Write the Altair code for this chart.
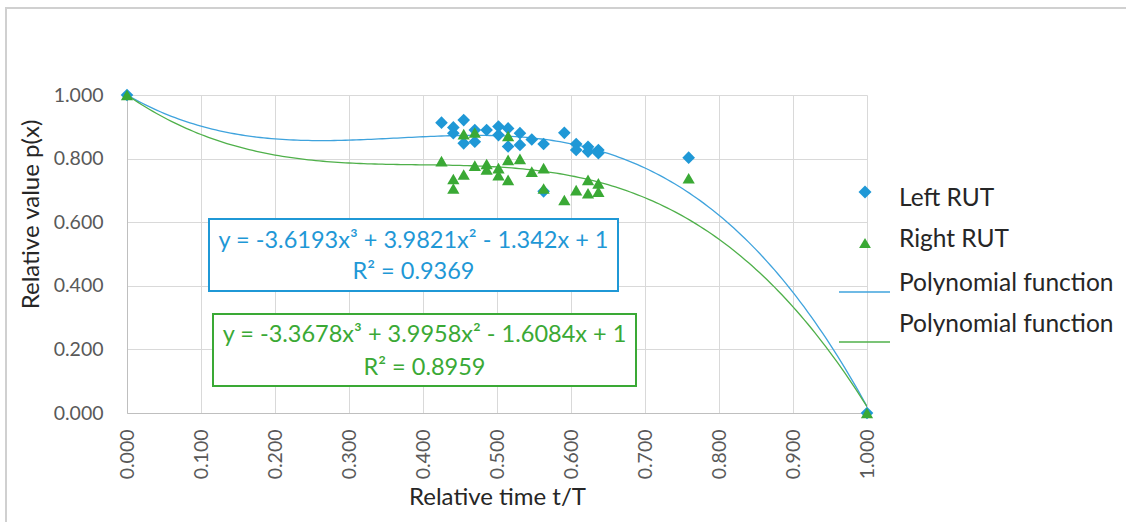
import altair as alt
import pandas as pd

# Relative time (t/T) and relative value p(x) for each tyre
left_t = [0.000, 0.425, 0.441, 0.441, 0.455, 0.455, 0.470, 0.470, 0.486, 0.502,
          0.502, 0.515, 0.515, 0.531, 0.531, 0.547, 0.563, 0.563, 0.591, 0.607,
          0.607, 0.623, 0.623, 0.637, 0.637, 0.759, 1.000]
left_p = [1.000, 0.913, 0.898, 0.880, 0.921, 0.848, 0.890, 0.853, 0.890, 0.901,
          0.874, 0.895, 0.838, 0.880, 0.843, 0.860, 0.846, 0.697, 0.881, 0.846,
          0.827, 0.837, 0.822, 0.827, 0.817, 0.803, 0.000]

right_t = [0.000, 0.425, 0.441, 0.441, 0.455, 0.455, 0.470, 0.470, 0.486, 0.486,
           0.502, 0.502, 0.515, 0.515, 0.515, 0.531, 0.547, 0.563, 0.563, 0.591,
           0.607, 0.623, 0.623, 0.637, 0.637, 0.759, 1.000]
right_p = [1.000, 0.792, 0.736, 0.706, 0.750, 0.877, 0.882, 0.778, 0.783, 0.766,
           0.770, 0.748, 0.871, 0.796, 0.733, 0.799, 0.759, 0.770, 0.706, 0.670,
           0.701, 0.733, 0.691, 0.722, 0.696, 0.738, 0.000]

# Cubic trend-line coefficients (x^3, x^2, x, 1)
left_coef = [-3.6193, 3.9821, -1.342, 1]
right_coef = [-3.3678, 3.9958, -1.6084, 1]
left_eq = ["y = -3.6193x³ + 3.9821x² - 1.342x + 1", "R² = 0.9369"]
right_eq = ["y = -3.3678x³ + 3.9958x² - 1.6084x + 1", "R² = 0.8959"]

x_ticks = [0.0, 0.1, 0.2, 0.3, 0.4, 0.5, 0.6, 0.7, 0.8, 0.9, 1.0]
y_ticks = [0.0, 0.2, 0.4, 0.6, 0.8, 1.0]
legend_labels = ["Left RUT", "Right RUT", "Polynomial function", "Polynomial function"]

BLUE = "#1f98d6"
GREEN = "#3aa935"
BLUE_LINE = "#3fa3dd"
GREEN_LINE = "#4fb04a"
FONT = "Lato"
TEXT = "#262626"

W, H = 740, 318

xs = alt.Scale(domain=[0, 1], nice=False)
ys = alt.Scale(domain=[0, 1], nice=False)

x_axis = alt.Axis(values=x_ticks, format=".3f", labelAngle=270, labelAlign="right",
                  labelBaseline="middle", labelPadding=16, ticks=False,
                  domainColor="#bfbfbf", gridColor="#d9d9d9",
                  labelFont=FONT, labelFontSize=19.5, labelColor="#595959",
                  title="Relative time t/T", titleFont=FONT, titleFontSize=24,
                  titleFontWeight="normal", titleColor=TEXT, titleY=84,
                  titleBaseline="middle")
y_axis = alt.Axis(values=y_ticks, format=".3f", labelPadding=24, ticks=False,
                  domainColor="#bfbfbf", gridColor="#d9d9d9",
                  labelFont=FONT, labelFontSize=19.5, labelColor="#595959",
                  title="Relative value p(x)", titleFont=FONT, titleFontSize=24,
                  titleFontWeight="normal", titleColor=TEXT, titleAngle=270,
                  titleX=-96, titleY=119, titleAlign="center", titleBaseline="middle")

one = pd.DataFrame({"k": [0]})

# Outer frame of the chart area
frame = alt.Chart(one).mark_rect(fillOpacity=0, stroke="#d0d0d0", strokeWidth=2).encode(
    x=alt.value(-121), x2=alt.value(1010), y=alt.value(-87), y2=alt.value(440))


def trend(coef, color):
    a, b, c, d = coef
    expr = f"({a})*pow(datum.t,3) + ({b})*pow(datum.t,2) + ({c})*datum.t + ({d})"
    return alt.Chart(alt.sequence(0, 1.0001, 0.005, as_="t")).transform_calculate(
        p=expr
    ).mark_line(color=color, strokeWidth=1.3, clip=True).encode(
        x=alt.X("t:Q", scale=xs, axis=x_axis),
        y=alt.Y("p:Q", scale=ys, axis=y_axis),
    )


left_df = pd.DataFrame({"t": left_t, "p": left_p})
right_df = pd.DataFrame({"t": right_t, "p": right_p})

left_pts = alt.Chart(left_df).mark_point(shape="diamond", filled=True, size=160,
                                         color=BLUE, opacity=1).encode(
    x=alt.X("t:Q", scale=xs), y=alt.Y("p:Q", scale=ys))
right_pts = alt.Chart(right_df).mark_point(shape="triangle-up", filled=True, size=150,
                                           color=GREEN, opacity=1).encode(
    x=alt.X("t:Q", scale=xs), y=alt.Y("p:Q", scale=ys))


def eq_box(lines, color, x1, x2, y1, y2, cx, b1, b2):
    box = alt.Chart(one).mark_rect(fill="white", stroke=color, strokeWidth=2).encode(
        x=alt.value(x1), x2=alt.value(x2), y=alt.value(y1), y2=alt.value(y2))
    t1 = alt.Chart(one).mark_text(font=FONT, fontSize=23.5, color=color, align="center",
                                  baseline="alphabetic").encode(
        x=alt.value(cx), y=alt.value(b1), text=alt.value(lines[0]))
    t2 = alt.Chart(one).mark_text(font=FONT, fontSize=23.5, color=color, align="center",
                                  baseline="alphabetic").encode(
        x=alt.value(cx), y=alt.value(b2), text=alt.value(lines[1]))
    return box + t1 + t2


blue_box = eq_box(left_eq, BLUE, 82, 491, 124, 196, 286.5, 153, 184)
green_box = eq_box(right_eq, GREEN, 86, 509, 219, 291, 297.5, 247, 280)

# Legend
leg_diamond = alt.Chart(one).mark_point(shape="diamond", filled=True, size=170,
                                        color=BLUE, opacity=1).encode(
    x=alt.value(738), y=alt.value(97))
leg_triangle = alt.Chart(one).mark_point(shape="triangle-up", filled=True, size=140,
                                         color=GREEN, opacity=1).encode(
    x=alt.value(738), y=alt.value(148))
leg_line1 = alt.Chart(one).mark_rule(color=BLUE_LINE, strokeWidth=1.5).encode(
    x=alt.value(712), x2=alt.value(763), y=alt.value(197))
leg_line2 = alt.Chart(one).mark_rule(color=GREEN_LINE, strokeWidth=1.5).encode(
    x=alt.value(712), x2=alt.value(763), y=alt.value(247))

leg_texts = []
for label, base in zip(legend_labels, [111, 152, 196, 237]):
    leg_texts.append(alt.Chart(one).mark_text(font=FONT, fontSize=24.5, color=TEXT,
                                              align="left", baseline="alphabetic").encode(
        x=alt.value(772), y=alt.value(base), text=alt.value(label)))

chart = alt.layer(
    frame,
    trend(left_coef, BLUE_LINE),
    trend(right_coef, GREEN_LINE),
    left_pts,
    right_pts,
    blue_box,
    green_box,
    leg_diamond, leg_triangle, leg_line1, leg_line2, *leg_texts,
).properties(
    width=W, height=H,
    autosize=alt.AutoSizeParams(type="none"),
    padding={"left": 127, "top": 95, "right": 259, "bottom": 109},
    background="white",
).configure_view(strokeWidth=0)

chart.save("out.html", embed_options={"renderer": "svg", "actions": False})
